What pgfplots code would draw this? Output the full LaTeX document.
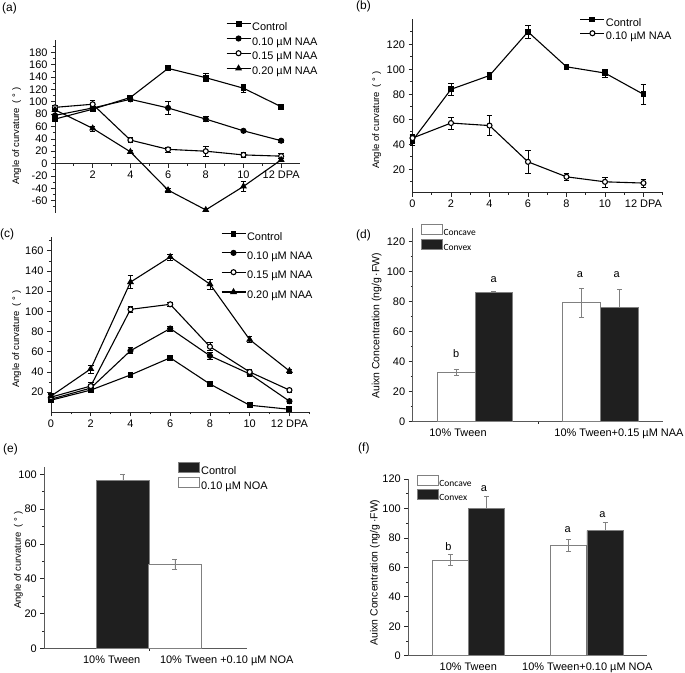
\documentclass[border=0pt]{standalone}
\usepackage{fontspec}
\setmainfont{Liberation Sans}
\newfontfamily\carlito{Carlito}
\usepackage{pgfplots}
\pgfplotsset{compat=1.18}
\begin{document}
\begin{tikzpicture}
\path[use as bounding box] (0,0) rectangle (685bp,673bp);
\pgfplotsset{
  every axis/.append style={
    scale only axis,
    anchor=south west,
    /pgf/number format/assume math mode=true,
    tick label style={font=\fontsize{11}{12}\selectfont},
    label style={font=\fontsize{9.5}{11}\selectfont},
    tick align=outside,
    major tick length=4bp,
    minor tick length=2.2bp,
    axis line style={line width=0.8bp, black!85},
    every tick/.style={line width=0.7bp, black!85},
    legend style={draw=none, fill=none, font=\fontsize{11}{12}\selectfont, anchor=north west, inner sep=0pt, outer sep=0pt,
      nodes={inner sep=1bp, text height=8bp, text depth=2bp}},
    legend cell align=left,
    clip=false,
  },
  lineleg/.style={legend image code/.code={\draw[mark repeat=2,mark phase=2,##1] plot coordinates {(0bp,3.5bp) (12bp,3.5bp) (24bp,3.5bp)};}},
  ctrl/.style={black, line width=1.1bp, mark=square*, mark size=2.4bp, mark options={solid, fill=black}},
  nten/.style={black, line width=1.1bp, mark=*, mark size=2.5bp, mark options={solid, fill=black}},
  nfif/.style={black, line width=1.1bp, mark=*, mark size=2.5bp, mark options={solid, fill=white}},
  ntwe/.style={black, line width=1.1bp, mark=triangle*, mark size=3bp, mark options={solid, fill=black}},
  eb/.style={error bars/.cd, y dir=both, y explicit, error bar style={line width=0.6bp, solid}, error mark options={rotate=90, mark size=2.8bp, line width=0.6bp}},
  barleg/.style={legend image code/.code={\draw[##1] (0bp,-1.5bp) rectangle (21bp,8.5bp);}},
  concave/.style={ybar, bar width=#1, bar shift=0pt, fill=white, draw=black!50, line width=0.8bp, barleg},
  convex/.style={ybar, bar width=#1, bar shift=0pt, fill=black!88, draw=black!50, line width=0.8bp, barleg},
  beb/.style={error bars/.cd, y dir=#1, y explicit, error bar style={black!50, line width=0.6bp}, error mark options={rotate=90, black!50, mark size=2.5bp, line width=0.6bp}},
  ylab/.style={ylabel={Angle of curvature\hspace{0.5em}(\hspace{0.3em}°\hspace{0.3em})}},
}
% ---------------- (a)
\begin{axis}[at={(55bp,460bp)}, width=245bp, height=173bp,
  xmin=0, xmax=13, ymin=-80, ymax=200,
  axis x line*=middle, axis y line*=left,
  hide obscured y ticks=false, hide obscured x ticks=false,
  xtick={2,4,...,12}, xticklabels={2,4,6,8,10,12 DPA},
  minor xtick={1,3,...,11},
  ytick={-60,-40,...,180}, minor ytick={-70,-50,...,190},
  ylab, ylabel style={at={(rel axis cs:-0.156,0.445)}, anchor=center},
  lineleg, legend style={at={(0.698,1.108)}, row sep=2.7bp},
]
\addplot[ctrl, eb] coordinates {(0,72) +- (0,2) (2,88) +- (0,3) (4,107) +- (0,3) (6,154) +- (0,2.5) (8,139) +- (0,6.5) (10,122) +- (0,6.5) (12,92) +- (0,2)};
\addplot[nten, eb] coordinates {(0,78) +- (0,2) (2,90) +- (0,3) (4,104) +- (0,3) (6,90) +- (0,10.5) (8,72) +- (0,4) (10,53) +- (0,3) (12,37) +- (0,2)};
\addplot[nfif, eb] coordinates {(0,91) +- (0,3) (2,96) +- (0,7) (4,38) +- (0,4) (6,23) +- (0,4) (8,20) +- (0,8) (10,14) +- (0,4) (12,12) +- (0,4)};
\addplot[ntwe, eb] coordinates {(0,87) +- (0,2) (2,57) +- (0,4) (4,19) +- (0,3) (6,-43) +- (0,3) (8,-75) +- (0,3) (10,-37) +- (0,8) (12,6) +- (0,3)};
\legend{Control,0.10 µM NAA,0.15 µM NAA,0.20 µM NAA}
\end{axis}
% ---------------- (b)
\begin{axis}[at={(412.5bp,480.3bp)}, width=250.2bp, height=173.4bp,
  xmin=0, xmax=13, ymin=1.3, ymax=140,
  axis x line*=bottom, axis y line*=left,
  xtick={0,2,...,12}, xticklabels={0,2,4,6,8,10,12 DPA},
  minor xtick={1,3,...,13},
  ytick={20,40,...,120}, minor ytick={10,30,...,130},
  ylab, ylabel style={at={(rel axis cs:-0.143,0.419)}, anchor=center},
  lineleg, legend style={at={(0.669,1.013)}, row sep=1.7bp},
]
\addplot[ctrl, eb] coordinates {(0,43) +- (0,4) (2,84) +- (0,5) (4,95) +- (0,3) (6,130) +- (0,5) (8,102) +- (0,2) (10,97) +- (0,3) (12,80) +- (0,8)};
\addplot[nfif, eb] coordinates {(0,45) +- (0,3) (2,57) +- (0,5) (4,55) +- (0,8) (6,26) +- (0,9) (8,14) +- (0,3) (10,10) +- (0,4) (12,9) +- (0,3)};
\legend{Control,0.10 µM NAA}
\end{axis}
% ---------------- (c)
\begin{axis}[at={(51bp,260.7bp)}, width=258.3bp, height=175.6bp,
  xmin=0, xmax=13, ymin=0, ymax=174,
  axis x line*=bottom, axis y line*=left,
  xtick={0,2,...,12}, xticklabels={0,2,4,6,8,10,12 DPA},
  minor xtick={1,3,...,13},
  ytick={20,40,...,160}, minor ytick={10,30,...,170},
  ylab, ylabel style={at={(rel axis cs:-0.133,0.417)}, anchor=center},
  lineleg, legend style={at={(0.658,1.032)}, row sep=7.3bp},
]
\addplot[ctrl, eb] coordinates {(0,12) +- (0,2) (2,22) +- (0,2) (4,37) +- (0,1.5) (6,54) +- (0,2) (8,28) +- (0,2) (10,7) +- (0,1.5) (12,3) +- (0,1.5)};
\addplot[nten, eb] coordinates {(0,13) +- (0,2) (2,24) +- (0,4) (4,61) +- (0,3) (6,83) +- (0,2.5) (8,56) +- (0,3) (10,38) +- (0,2) (12,11) +- (0,2)};
\addplot[nfif, eb] coordinates {(0,15) +- (0,4) (2,26) +- (0,4) (4,102) +- (0,3) (6,107) +- (0,2) (8,65) +- (0,4) (10,40) +- (0,3) (12,22) +- (0,2)};
\addplot[ntwe, eb] coordinates {(0,16) +- (0,2) (2,43) +- (0,4) (4,129) +- (0,6.5) (6,154) +- (0,3) (8,127) +- (0,5) (10,72) +- (0,3) (12,41) +- (0,2)};
\legend{Control,0.10 µM NAA,0.15 µM NAA,0.20 µM NAA}
\end{axis}
% ---------------- (d)
\begin{axis}[at={(412.7bp,251.3bp)}, width=250.6bp, height=193.4bp,
  xmin=0, xmax=250.6, ymin=0, ymax=129,
  axis x line*=bottom, axis y line*=left,
  axis line style={black!65},
  xtick={45.3,206.3}, xticklabels={10\% Tween,10\% Tween+0.15 µM NAA},
  major x tick style={draw=none}, minor xtick={125.6},
  ytick={0,20,...,120}, minor ytick={10,30,...,110},
  ylabel={Auixn Concentration (ng/g\,·FW)},
  ylabel style={at={(rel axis cs:-0.144,0.496)}, anchor=center, font=\fontsize{10.5}{12}\selectfont},
  legend style={at={(0.032,1.022)}, row sep=0.7bp, font=\carlito\fontsize{9.5}{11}\selectfont, nodes={inner sep=1bp, text height=7bp, text depth=2bp}},
]
\addplot[concave=37.7, beb=both] coordinates {(43.45,33) +- (0,2.2) (169,79.6) +- (0,9.7)};
\addplot[convex=37.7, beb=plus] coordinates {(81.15,86.3) +- (0,0.4) (206.8,76) +- (0,12.4)};
\legend{Concave,Convex}
\node[font=\fontsize{11}{12}\selectfont] at (axis cs:43.4,45.6) {b};
\node[font=\fontsize{11}{12}\selectfont] at (axis cs:81,94.5) {a};
\node[font=\fontsize{11}{12}\selectfont] at (axis cs:167.3,97.8) {a};
\node[font=\fontsize{11}{12}\selectfont] at (axis cs:204,97.8) {a};
\end{axis}
% ---------------- (e)
\begin{axis}[at={(44.3bp,24.7bp)}, width=202.4bp, height=181bp,
  xmin=0, xmax=202.4, ymin=0, ymax=104,
  axis x line*=bottom, axis y line*=left,
  axis line style={black!65},
  xtick={67.4,182.4}, xticklabels={10\% Tween,10\% Tween +0.10 µM NOA},
  major x tick style={draw=none}, minor xtick={104.7},
  ytick={0,20,...,100}, minor ytick={10,30,...,90},
  ylab, ylabel style={at={(rel axis cs:-0.128,0.488)}, anchor=center},
  legend style={at={(0.662,1.028)}, row sep=0.7bp, nodes={inner sep=1bp, text height=7.5bp, text depth=1.5bp}},
]
\addplot[convex=52.3, beb=plus] coordinates {(78.5,96.5) +- (0,3.5)};
\addplot[concave=52.3, beb=both] coordinates {(130.5,48.3) +- (0,2.7)};
\legend{Control,0.10 µM NOA}
\end{axis}
% ---------------- (f)
\begin{axis}[at={(408.3bp,17.3bp)}, width=238.4bp, height=176.7bp,
  xmin=0, xmax=238.4, ymin=0, ymax=120,
  axis x line*=bottom, axis y line*=left,
  axis line style={black!65},
  xtick={60,179}, xticklabels={10\% Tween,10\% Tween+0.10 µM NOA},
  major x tick style={draw=none},
  ytick={0,20,...,120}, minor ytick={10,30,...,110},
  ylabel={Auixn Concentration (ng/g\,·FW)},
  ylabel style={at={(rel axis cs:-0.140,0.471)}, anchor=center, font=\fontsize{10.5}{12}\selectfont},
  legend style={at={(0.035,1.023)}, row sep=0bp, font=\carlito\fontsize{9.5}{11}\selectfont, nodes={inner sep=1bp, text height=7bp, text depth=2bp}},
]
\addplot[concave=36.3, beb=both] coordinates {(42,65) +- (0,3.6) (160.2,75) +- (0,4)};
\addplot[convex=36.3, beb=plus] coordinates {(78,100) +- (0,8.4) (196.8,85) +- (0,5.7)};
\legend{Concave,Convex}
\node[font=\fontsize{11}{12}\selectfont] at (axis cs:40,74) {b};
\node[font=\fontsize{11}{12}\selectfont] at (axis cs:75.7,113.6) {a};
\node[font=\fontsize{11}{12}\selectfont] at (axis cs:159.4,85.8) {a};
\node[font=\fontsize{11}{12}\selectfont] at (axis cs:194,96) {a};
\end{axis}
% panel labels
\node[anchor=west, inner sep=0pt, font=\fontsize{12}{14}\selectfont] at (2bp,664.5bp) {(a)};
\node[anchor=west, inner sep=0pt, font=\fontsize{12}{14}\selectfont] at (356bp,667bp) {(b)};
\node[anchor=west, inner sep=0pt, font=\fontsize{12}{14}\selectfont] at (0bp,439bp) {(c)};
\node[anchor=west, inner sep=0pt, font=\fontsize{12}{14}\selectfont] at (356bp,438bp) {(d)};
\node[anchor=west, inner sep=0pt, font=\fontsize{12}{14}\selectfont] at (3bp,224bp) {(e)};
\node[anchor=west, inner sep=0pt, font=\fontsize{12}{14}\selectfont] at (358bp,225bp) {(f)};
\end{tikzpicture}
\end{document}
